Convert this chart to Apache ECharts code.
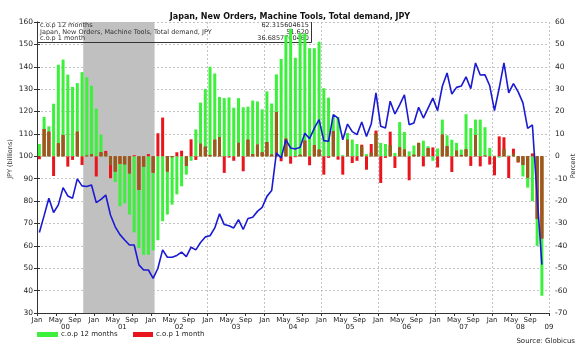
<!DOCTYPE html>
<html>
<head>
<meta charset="utf-8">
<script src="https://cdn.jsdelivr.net/npm/echarts@6/dist/echarts.min.js"></script>
<style>
  html, body { margin: 0; padding: 0; background: #fff; }
  #chart { width: 580px; height: 351px; }
</style>
</head>
<body>
<div id="chart"></div>
<script>
// monthly, Jan 2000 .. Nov 2008
const startYear = 2000
const monthNames = ['Jan', 'May', 'Sep']

// Japan, new orders, machine tools, total demand (JPY billions)
const orders = [
  66, 73.5, 81.3, 74.9, 78.3, 86, 82.3, 81.3, 89.9, 86.8, 86.5, 87.2,
  79.3, 80.8, 82.7, 73.8, 68.5, 65, 62.6, 60.4, 60.4, 51.5, 49.2, 49.2,
  45.5, 50, 58.2, 54.9, 54.9, 55.7, 57.2, 55.2, 59.4, 58.2, 61.5, 64,
  64.5, 68, 74.3, 69.5, 69, 68, 71.7, 67.3, 72.2, 72.8, 75.4, 77.2,
  82.1, 84.7, 101.5, 99.3, 107.3, 103.7, 103.3, 104, 110.3, 107.9, 112.6, 116.4,
  107, 106.7, 118.6, 117.1, 107.4, 114.4, 111, 109.7, 115.3, 108.9, 114.4, 128.3,
  113.4, 112.6, 124.6, 118.9, 123, 127.5, 114.1, 114.9, 121.9, 117.1, 121.5, 126,
  120.4, 131.3, 137.2, 127.8, 130.8, 131.4, 135.5, 130.2, 141.7, 136.3, 136.4, 131.5,
  120.4, 130.5, 141.7, 128.3, 132.5, 128.8, 123.9, 112.5, 114, 82, 51.6
]

// c.o.p 12 months (%)
const cop12 = [
  5.5, 17.6, 13.4, 23.5, 40.9, 43.2, 36.5, 31, 32.7, 37.6, 35.3, 31.5,
  21.3, 9.7, 1.5, -4, -11.5, -22.3, -21, -26, -34, -41, -44, -44,
  -42, -37.5, -29, -26, -21.6, -17, -13.4, -8.2, -2, 12, 24, 30,
  40, 37, 26.5, 26, 26.3, 21.7, 26, 21.9, 22.2, 24.9, 24.5, 21,
  29, 23.6, 36.6, 43.5, 54, 57, 44, 55, 55, 48.3, 48.3, 51.2,
  30.4, 26.2, 17.5, 17.5, 0.5, 10.4, 7.5, 5.5, 4.5, 1, 1.6, 10.2,
  6, 5.5, 5, 1.5, 15.3, 10.9, 2.2, 4.8, 6, 7, 4.5, -2,
  3.5, 16.4, 9.4, 7.4, 6, 3, 18.8, 12.6, 16.4, 16.4, 13, 3.7,
  0.3, -0.6, 3.3, 0.4, 1.3, -2.5, -9, -14, -20, -40, -62.3
]

// c.o.p 1 month (%)
const cop1 = [
  -1.3, 12.2, 11, -8.8, 5.8, 9.5, -4.6, -1.6, 11, -3.9, 0.3, 1,
  -9, 1.8, 2.4, -9.8, -6.8, -3.4, -3.6, -7.6, 0.5, -15, -4.6, 1,
  -7.3, 10.3, 17.3, -6.8, -0.4, 1.8, 2.5, -4.3, 7.6, -1.6, 5.6, 4.3,
  0.5, 7.4, 8.6, -7.4, -0.6, -2, 6, -6.7, 7.4, 1, 5.2, 1.8,
  6.4, 0.8, 19.8, -2.2, 7.9, -3.3, -0.4, 0.7, 7, -4, 5, 3,
  -8.2, -0.7, 11.2, -1.5, -8.2, 7.4, -3, -2, 5.2, -6, 5.5, 11.5,
  -11.9, -0.7, 11, -5.2, 4, 3, -10.7, 0.7, 6, -4.5, 3.7, 4,
  -5, 9.7, 4.5, -7, 2.5, 0.6, 3.1, -4.3, 9.5, -4.5, 0.3, -3.7,
  -8.5, 8.9, 8.5, -9.7, 3.4, -2.8, -3.8, -9.5, 1.3, -28, -36.7
]

// shaded period, months since Jan 2000
const recession = [9.75, 24.8]

// latest values shown in the box
const boxRows = [
  ['c.o.p 12 months', '62.315604615'],
  ['Japan, New Orders, Machine Tools, Total demand, JPY', '51.620'],
  ['c.o.p 1 month', '36.6857760460']
]

const FONT = 'DejaVu Sans'
const GREEN = '#3cf03c'
const RED = '#e8161c'
const BROWN = '#9a5a1e'

// mid-month positions
const pts = arr => arr.map((v, i) => [i + 0.5, v])

// part where both bars overlap (drawn darker, as in the original)
const overlap = cop12.map((g, i) => {
  const r = cop1[i]
  if (g * r <= 0) return [i + 0.5, 0]
  return [i + 0.5, Math.sign(g) * Math.min(Math.abs(g), Math.abs(r))]
})

const chart = echarts.init(document.getElementById('chart'))

const boxGraphics = []
boxRows.forEach((row, k) => {
  boxGraphics.push({
    type: 'text', z: 1.5, left: 40, top: 22 + k * 6.6,
    style: { text: row[0], font: '6.5px ' + FONT, fill: '#333' }
  })
  boxGraphics.push({
    type: 'text', z: 1.5, x: 309, y: 22 + k * 6.6,
    style: { text: row[1], font: '6.5px ' + FONT, fill: '#333', textAlign: 'right' }
  })
})

chart.setOption({
  animation: false,
  title: {
    text: 'Japan, New Orders, Machine Tools, Total demand, JPY',
    left: 'center',
    top: 8,
    textStyle: { fontFamily: FONT, fontSize: 8, fontWeight: 'bold', color: '#111' }
  },
  grid: { left: 37, right: 31, top: 22, bottom: 38 },
  xAxis: [
    {
      type: 'value', min: 0, max: 108, interval: 4, position: 'bottom',
      axisLine: { show: true, onZero: false, lineStyle: { color: '#333' } },
      axisTick: { show: true, length: 3, lineStyle: { color: '#333' } },
      axisLabel: {
        fontFamily: FONT, fontSize: 7, color: '#222', margin: 4,
        showMinLabel: true, showMaxLabel: true,
        formatter: v => (v >= 108 ? '' : monthNames[(v % 12) / 4])
      },
      splitLine: { show: false }
    },
    {
      type: 'value', min: 0, max: 108, interval: 6, position: 'bottom',
      axisLine: { show: false }, axisTick: { show: false }, splitLine: { show: false },
      axisLabel: {
        fontFamily: FONT, fontSize: 7, color: '#222', margin: 11,
        showMinLabel: true, showMaxLabel: true,
        formatter: v => {
          if (v % 12 !== 6 && v !== 108) return ''
          return String((startYear + Math.floor(v / 12)) % 100).padStart(2, '0')
        }
      }
    },
    {
      type: 'value', min: 0, max: 108, interval: 12, position: 'bottom',
      axisLine: { show: false }, axisTick: { show: false }, axisLabel: { show: false },
      splitLine: { show: true, lineStyle: { color: '#c4c4c4', type: [2, 2] } }
    }
  ],
  yAxis: [
    {
      type: 'value', min: 30, max: 160, interval: 10, position: 'left',
      axisLine: { show: true, lineStyle: { color: '#333' } },
      axisTick: { show: true, length: 3, lineStyle: { color: '#333' } },
      axisLabel: { fontFamily: FONT, fontSize: 7.5, color: '#222', margin: 4 },
      splitLine: { show: true, lineStyle: { color: '#c4c4c4', type: [2, 2] } }
    },
    {
      type: 'value', min: -70, max: 60, interval: 10, position: 'right',
      axisLine: { show: true, lineStyle: { color: '#333' } },
      axisTick: { show: true, length: 3, lineStyle: { color: '#333' } },
      axisLabel: { fontFamily: FONT, fontSize: 7.5, color: '#222', margin: 6 },
      splitLine: { show: false }
    }
  ],
  series: [
    {
      type: 'line', data: [], z: 1, silent: true,
      markArea: {
        silent: true,
        itemStyle: { color: '#c0c0c0' },
        data: [[{ xAxis: recession[0] }, { xAxis: recession[1] }]]
      }
    },
    {
      name: 'c.o.p 12 months', type: 'bar', yAxisIndex: 1, z: 2,
      barWidth: 3, barGap: '-100%',
      itemStyle: { color: GREEN },
      data: pts(cop12)
    },
    {
      name: 'c.o.p 1 month', type: 'bar', yAxisIndex: 1, z: 3,
      barWidth: 3, barGap: '-100%',
      itemStyle: { color: RED },
      data: pts(cop1)
    },
    {
      type: 'bar', yAxisIndex: 1, z: 4,
      barWidth: 3, barGap: '-100%',
      itemStyle: { color: BROWN },
      data: overlap
    },
    {
      name: 'Japan, New Orders, Machine Tools, Total demand, JPY',
      type: 'line', yAxisIndex: 0, z: 5,
      showSymbol: false,
      lineStyle: { color: '#1a1ad2', width: 1.6 },
      data: pts(orders)
    }
  ],
  graphic: [
    // box with latest values
    {
      type: 'polyline', z: 1.5,
      shape: { points: [[37, 42.5], [311.5, 42.5], [311.5, 22]] },
      style: { stroke: '#333', lineWidth: 1, fill: null }
    },
    ...boxGraphics,
    // axis names
    {
      type: 'text', x: 10, y: 159, rotation: Math.PI / 2,
      style: { text: 'JPY (billions)', font: '6.5px ' + FONT, fill: '#333', textAlign: 'center', textVerticalAlign: 'middle' }
    },
    {
      type: 'text', x: 573, y: 166, rotation: Math.PI / 2,
      style: { text: 'Percent', font: '6.5px ' + FONT, fill: '#333', textAlign: 'center', textVerticalAlign: 'middle' }
    },
    // legend
    { type: 'rect', shape: { x: 37, y: 332, width: 21, height: 5 }, style: { fill: GREEN } },
    {
      type: 'text', x: 61, y: 334.5,
      style: { text: 'c.o.p 12 months', font: '7px ' + FONT, fill: '#222', textVerticalAlign: 'middle' }
    },
    { type: 'rect', shape: { x: 133, y: 332, width: 20, height: 5 }, style: { fill: RED } },
    {
      type: 'text', x: 156, y: 334.5,
      style: { text: 'c.o.p 1 month', font: '7px ' + FONT, fill: '#222', textVerticalAlign: 'middle' }
    },
    {
      type: 'text', x: 575, y: 341,
      style: { text: 'Source: Globicus', font: '7px ' + FONT, fill: '#222', textAlign: 'right', textVerticalAlign: 'middle' }
    }
  ]
})
</script>
</body>
</html>
